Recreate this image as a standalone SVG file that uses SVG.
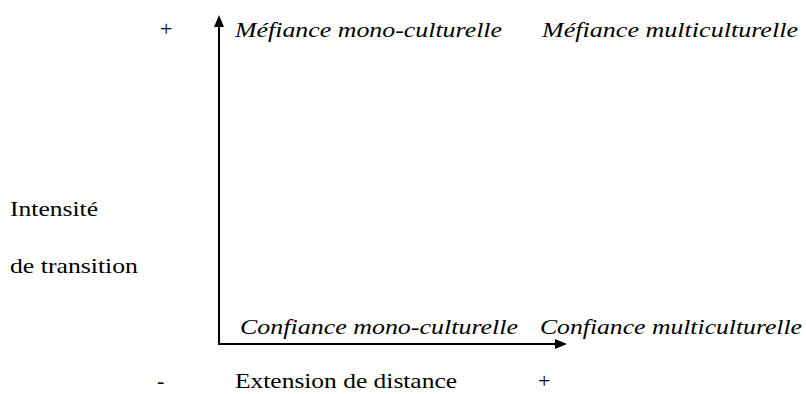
<svg xmlns="http://www.w3.org/2000/svg" width="806" height="394" viewBox="0 0 806 394">
<rect width="806" height="394" fill="#fff"/>
<g id="connectors">
<line x1="219" y1="345" x2="219" y2="26" stroke="#000" stroke-width="2"/>
<polygon points="219,15 214,27 224,27" fill="#000"/>
<line x1="218" y1="344" x2="556" y2="344" stroke="#000" stroke-width="2"/>
<polygon points="567,344 555,339 555,349" fill="#000"/>
</g>
<text font-family="Times New Roman, Liberation Serif, serif" font-size="22" x="160" y="36">+</text>
<text font-family="Times New Roman, Liberation Serif, serif" font-size="22" font-style="italic" x="235" y="37" textLength="267" lengthAdjust="spacingAndGlyphs">Méfiance mono-culturelle</text>
<text font-family="Times New Roman, Liberation Serif, serif" font-size="22" font-style="italic" x="542" y="37" textLength="256" lengthAdjust="spacingAndGlyphs">Méfiance multiculturelle</text>
<text font-family="Times New Roman, Liberation Serif, serif" font-size="22" x="10" y="216" textLength="88" lengthAdjust="spacingAndGlyphs">Intensité</text>
<text font-family="Times New Roman, Liberation Serif, serif" font-size="22" x="10" y="273" textLength="128" lengthAdjust="spacingAndGlyphs">de transition</text>
<text font-family="Times New Roman, Liberation Serif, serif" font-size="22" font-style="italic" x="240" y="334" textLength="278" lengthAdjust="spacingAndGlyphs">Confiance mono-culturelle</text>
<text font-family="Times New Roman, Liberation Serif, serif" font-size="22" font-style="italic" x="540" y="334" textLength="262" lengthAdjust="spacingAndGlyphs">Confiance multiculturelle</text>
<text font-family="Times New Roman, Liberation Serif, serif" font-size="22" x="157" y="388">-</text>
<text font-family="Times New Roman, Liberation Serif, serif" font-size="22" x="235" y="388" textLength="222" lengthAdjust="spacingAndGlyphs">Extension de distance</text>
<text font-family="Times New Roman, Liberation Serif, serif" font-size="22" x="538" y="388">+</text>
</svg>
